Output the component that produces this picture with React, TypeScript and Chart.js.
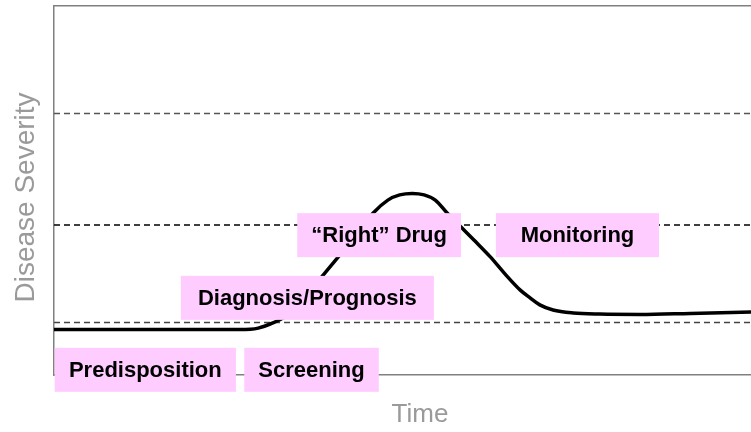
import React, { useEffect, useRef } from "react";
import { Chart, registerables } from "chart.js";

Chart.register(...registerables);

// Disease severity curve over time (time 0–100, severity 0–100)
const timePoints = [0, 13.8, 26.7, 29.3, 31.4, 33.1, 35.3, 38.5, 41.0, 43.5, 45.8, 47.9, 49.6, 51.4, 53.1, 54.7, 56.4, 58.4, 60.4, 62.6, 64.7, 66.9, 68.3, 69.7, 71.6, 74.5, 78.3, 84.1, 91.3, 100];
const severity = [12.3, 12.3, 12.3, 12.7, 14.1, 15.7, 19.0, 26.8, 32.5, 38.2, 43.9, 47.4, 48.8, 49.2, 48.8, 47.4, 43.9, 40.1, 36.3, 32.0, 27.4, 23.0, 20.9, 19.0, 17.6, 16.8, 16.5, 16.4, 16.7, 17.1];

// Dashed reference levels
const referenceLevels = [70.9, 40.65, 14.2];
const referenceColors = ["#555555", "#000000", "#444444"];

// Stage labels (span in time, level in severity)
const stageNames = ["Predisposition", "Screening", "Diagnosis/Prognosis", "\u201CRight\u201D Drug", "Monitoring"];
const stageStart = [0.1, 27.3, 18.2, 34.9, 63.4];
const stageEnd = [26.1, 46.6, 54.5, 58.4, 86.8];
const stageLevel = [1.4, 1.4, 20.9, 37.9, 37.9];

const xTitle = "Time";
const yTitle = "Disease Severity";

const FONT = '"Liberation Sans", Arial, Helvetica, sans-serif';

const stagePlugin = {
  id: "stages",
  afterDatasetsDraw(chart: any) {
    const { ctx, scales } = chart;
    const x = scales.x;
    const y = scales.y;
    ctx.save();
    ctx.font = `bold 22px ${FONT}`;
    ctx.textAlign = "center";
    ctx.textBaseline = "middle";
    stageNames.forEach((name, i) => {
      const x0 = x.getPixelForValue(stageStart[i]);
      const x1 = x.getPixelForValue(stageEnd[i]);
      const yc = y.getPixelForValue(stageLevel[i]);
      ctx.fillStyle = "#ffccff";
      ctx.fillRect(x0, yc - 22, x1 - x0, 44);
      ctx.fillStyle = "#000000";
      ctx.fillText(name, (x0 + x1) / 2, yc + 1);
    });
    ctx.restore();
  },
  afterDraw(chart: any) {
    const { ctx } = chart;
    ctx.save();
    ctx.fillStyle = "#9a9a9a";
    ctx.textAlign = "center";
    ctx.textBaseline = "middle";
    ctx.font = `26px ${FONT}`;
    ctx.fillText(xTitle, 420, 415);
    ctx.translate(26, 197.5);
    ctx.rotate(-Math.PI / 2);
    ctx.font = `28px ${FONT}`;
    ctx.fillText(yTitle, 0, 0);
    ctx.restore();
  },
};

export default function App() {
  const ref = useRef<HTMLCanvasElement | null>(null);

  useEffect(() => {
    document.body.style.margin = "0";
    const canvas = ref.current;
    if (!canvas) return;

    const axisCommon = {
      type: "linear" as const,
      min: 0,
      max: 100,
      ticks: { display: false },
      grid: { display: false, drawTicks: false },
      border: { display: true, color: "#808080", width: 1.5 },
    };

    const refDatasets = referenceLevels.map((lvl, i) => ({
      label: `ref${i}`,
      data: [
        { x: 0, y: lvl },
        { x: 100, y: lvl },
      ],
      borderColor: referenceColors[i],
      borderWidth: 1.5,
      borderDash: [6, 4],
      pointRadius: 0,
      fill: false,
    }));

    const chart = new Chart(canvas, {
      type: "line",
      data: {
        datasets: [
          {
            label: "Severity",
            data: timePoints.map((t, i) => ({ x: t, y: severity[i] })),
            borderColor: "#000000",
            borderWidth: 3.5,
            pointRadius: 0,
            cubicInterpolationMode: "monotone",
            fill: false,
          },
          ...refDatasets,
        ] as any,
      },
      options: {
        animation: false,
        responsive: false,
        layout: { padding: { left: 54, top: 6, right: 0, bottom: 57 } },
        plugins: {
          legend: { display: false },
          tooltip: { enabled: false },
        },
        scales: {
          x: { ...axisCommon, position: "bottom" },
          xTop: { ...axisCommon, position: "top" },
          y: { ...axisCommon, position: "left" },
        } as any,
      },
      plugins: [stagePlugin],
    });

    return () => chart.destroy();
  }, []);

  return (
    <div style={{ width: 751, height: 432, background: "#ffffff" }}>
      <canvas ref={ref} width={751} height={432} style={{ display: "block" }} />
    </div>
  );
}
